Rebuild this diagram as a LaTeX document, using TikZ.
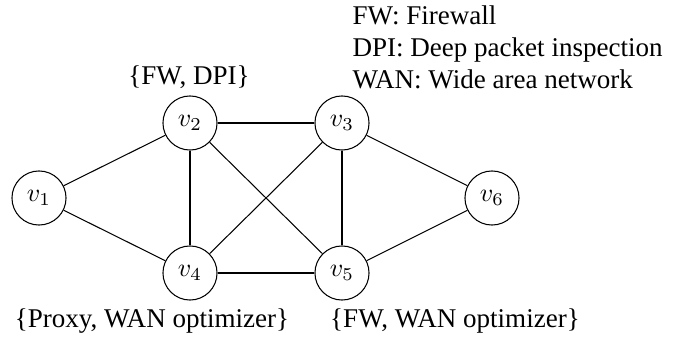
\documentclass[tikz,border=0pt]{standalone}
\usepackage{fontspec}
\setmainfont{Liberation Serif}
\begin{document}
\begin{tikzpicture}[x=0.3846pt,y=-0.3846pt,
  vert/.style={circle,draw,line width=0.4pt,minimum size=20.8pt,inner sep=0pt,font=\fontsize{10}{12}\selectfont},
  lbl/.style={inner sep=0pt,font=\fontsize{10.4}{12.4}\selectfont},
  edge/.style={line width=0.4pt}]
\useasboundingbox (0,0) rectangle (689,339);
\node[vert] (v1) at (39,198) {$v_1$};
\node[vert] (v2) at (190,123) {$v_2$};
\node[vert] (v3) at (342,123) {$v_3$};
\node[vert] (v4) at (190,273) {$v_4$};
\node[vert] (v5) at (342,273) {$v_5$};
\node[vert] (v6) at (492,198) {$v_6$};
\draw[edge] (v1) -- (v2);
\draw[edge] (v1) -- (v4);
\draw[edge] (v2) -- (v3);
\draw[edge] (v2) -- (v4);
\draw[edge] (v2) -- (v5);
\draw[edge] (v3) -- (v4);
\draw[edge] (v3) -- (v5);
\draw[edge] (v3) -- (v6);
\draw[edge] (v4) -- (v5);
\draw[edge] (v5) -- (v6);
\node[lbl,anchor=base] (l2) at (189,85) {\{FW, DPI\}};
\node[lbl,anchor=base] (l4) at (152,328) {\{Proxy, WAN optimizer\}};
\node[lbl,anchor=base] (l5) at (455,328) {\{FW, WAN optimizer\}};
\node[lbl,anchor=base west] (k1) at (352,25) {FW: Firewall};
\node[lbl,anchor=base west] (k2) at (352,57) {DPI: Deep packet inspection};
\node[lbl,anchor=base west] (k3) at (352,89) {WAN: Wide area network};
\end{tikzpicture}
\end{document}
